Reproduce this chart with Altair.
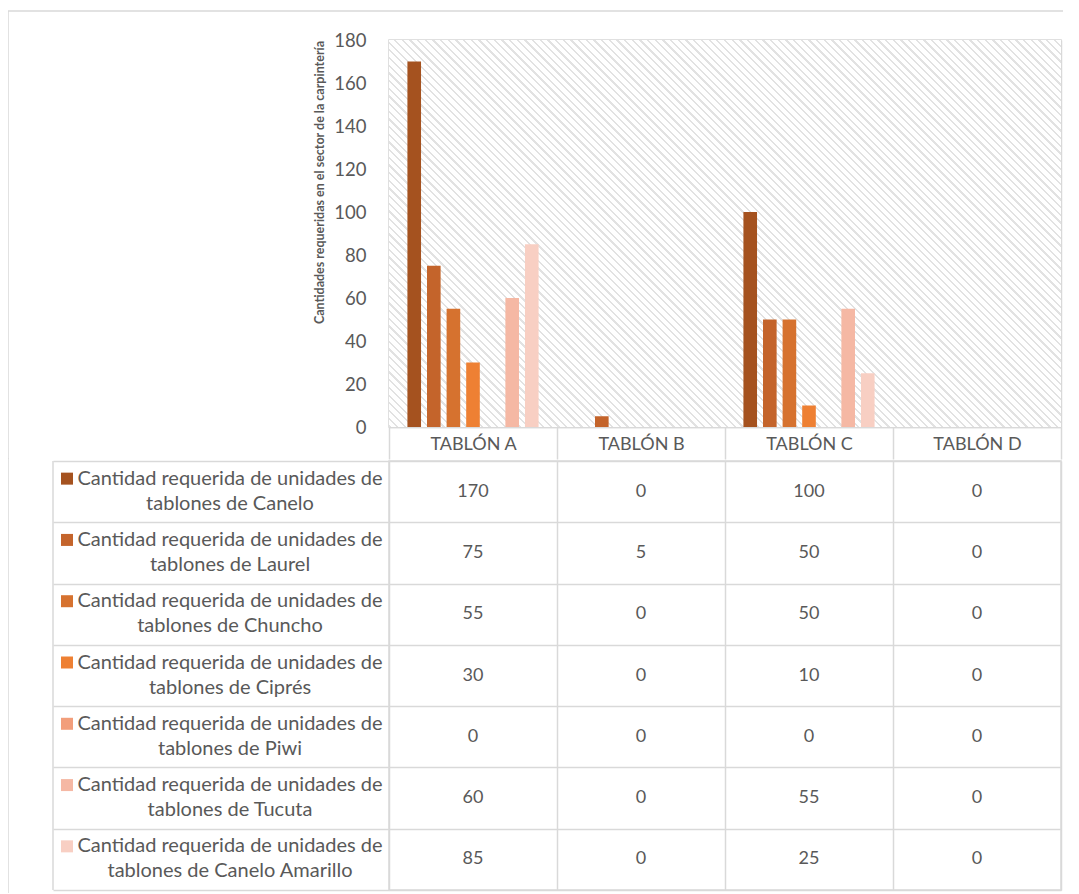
import altair as alt
import pandas as pd
import math

categories = ["TABLÓN A", "TABLÓN B", "TABLÓN C", "TABLÓN D"]
species = ["Canelo", "Laurel", "Chuncho", "Ciprés", "Piwi", "Tucuta", "Canelo Amarillo"]
canelo = [170, 0, 100, 0]
laurel = [75, 5, 50, 0]
chuncho = [55, 0, 50, 0]
cipres = [30, 0, 10, 0]
piwi = [0, 0, 0, 0]
tucuta = [60, 0, 55, 0]
canelo_amarillo = [85, 0, 25, 0]
colors = ["#A5521F", "#C4642B", "#D6722F", "#EE8033", "#F29E7B", "#F5B8A4", "#F8CFC3"]
y_ticks = [0, 20, 40, 60, 80, 100, 120, 140, 160, 180]
y_title = "Cantidades requeridas en el sector de la carpintería"

values = [canelo, laurel, chuncho, cipres, piwi, tucuta, canelo_amarillo]
labels = ["Cantidad requerida de unidades de\ntablones de " + s for s in species]

rows = []
for s, lab, vals in zip(species, labels, values):
    for c, v in zip(categories, vals):
        rows.append({"serie": s, "label": lab, "cat": c, "val": v})
df = pd.DataFrame(rows)
heads = pd.DataFrame({"serie": species, "label": labels})
one = pd.DataFrame({"k": [0]})

FONT = "Lato"
GRAY = "#D9D9D9"
TXT = "#595959"
W, H = 672, 387
TH = 429

# diagonal hatch as a repeating linear gradient (style only)
L = (W + H) / math.sqrt(2)
n = int(L / 5.4)
P = 1.0 / n
stops = []
for k in range(n):
    t0 = round(k * P, 5)
    t1 = round(k * P + 0.3 * P, 5)
    stops += [{"offset": t0, "color": "#FFFFFF"}, {"offset": t0, "color": "#E2E2E2"},
              {"offset": t1, "color": "#E2E2E2"}, {"offset": t1, "color": "#FFFFFF"}]
stops.append({"offset": 1, "color": "#FFFFFF"})
mu = (W + H) / (W * W + H * H)
hatch = {"gradient": "linear", "x1": 0, "y1": 1, "x2": round(mu * W, 5), "y2": round(1 - mu * H, 5), "stops": stops}

color_scale = alt.Scale(domain=species, range=colors)

bg = alt.Chart(one).mark_rect(fill=hatch, strokeWidth=0).encode(
    x=alt.value(0), x2=alt.value(W), y=alt.value(0), y2=alt.value(H))

bars = alt.Chart(df).mark_bar().encode(
    x=alt.X("cat:N", sort=categories, scale=alt.Scale(paddingInner=0, paddingOuter=0),
            axis=alt.Axis(title=None, labelAngle=0, labelFont=FONT, labelFontSize=18, labelColor=TXT,
                          labelBaseline="middle", labelPadding=-15, tickSize=32, tickColor=GRAY,
                          tickWidth=1.5, tickBand="extent",
                          grid=True, gridColor=GRAY, gridWidth=1.5, domainColor=GRAY, domainWidth=1.5)),
    xOffset=alt.XOffset("serie:N", sort=species, scale=alt.Scale(paddingInner=0.305, paddingOuter=0.94)),
    y=alt.Y("val:Q", scale=alt.Scale(domain=[0, 180], nice=False),
            axis=alt.Axis(values=y_ticks, title=y_title, titleFont=FONT, titleFontSize=12.5, titleFontWeight="bold",
                          titleColor=TXT, titleX=-70, titleY=142, titleAlign="center", titleBaseline="middle",
                          labelFont=FONT, labelFontSize=18.5, labelColor=TXT, labelPadding=23, ticks=False,
                          domain=False, grid=True, gridColor=GRAY, gridWidth=1.5)),
    color=alt.Color("serie:N", scale=color_scale, legend=None),
)
frame_top = alt.Chart(one).mark_rule(color=GRAY, strokeWidth=1.5).encode(
    x=alt.value(-381), x2=alt.value(W + 2), y=alt.value(-29))
frame_left_top = alt.Chart(one).mark_rule(color=GRAY, strokeWidth=1.5).encode(
    x=alt.value(-381), y=alt.value(-29), y2=alt.value(H + 32))
top = alt.layer(bg, bars, frame_top, frame_left_top).properties(width=W, height=H)

cells = alt.Chart(df).mark_text(font=FONT, fontSize=18, color=TXT).encode(
    x=alt.X("cat:N", sort=categories, scale=alt.Scale(paddingInner=0, paddingOuter=0),
            axis=alt.Axis(title=None, labels=False, ticks=False, domain=False, grid=True, tickBand="extent",
                          gridColor=GRAY, gridWidth=1.5)),
    y=alt.Y("serie:N", sort=species, scale=alt.Scale(paddingInner=0, paddingOuter=0),
            axis=alt.Axis(title=None, labels=False, domain=False, grid=True, tickBand="extent",
                          gridColor=GRAY, gridWidth=1.5, ticks=True, tickSize=336, tickColor=GRAY, tickWidth=1.5)),
    text=alt.Text("val:Q"),
)
head_text = alt.Chart(heads).mark_text(font=FONT, fontSize=20, color=TXT, align="center",
                                       baseline="middle", lineBreak="\n", lineHeight=25, dy=-13).encode(
    x=alt.value(-159), y=alt.Y("serie:N", sort=species), text="label:N")
squares = alt.Chart(heads).mark_square(size=144, opacity=1, yOffset=-13).encode(
    x=alt.value(-322), y=alt.Y("serie:N", sort=species),
    color=alt.Color("serie:N", scale=color_scale, legend=None))
left_border = alt.Chart(one).mark_rule(color=GRAY, strokeWidth=1.5).encode(
    x=alt.value(-336), y=alt.value(0), y2=alt.value(TH))
frame_left = alt.Chart(one).mark_rule(color=GRAY, strokeWidth=1.5).encode(
    x=alt.value(-381), y=alt.value(-3), y2=alt.value(TH + 3))
table = alt.layer(cells, head_text, squares, left_border, frame_left).properties(width=W, height=TH)

chart = alt.vconcat(top, table, spacing=-6).properties(
    padding={"left": -2, "top": 1, "right": 0, "bottom": 0}, background="#FFFFFF"
).configure_view(stroke=GRAY, strokeWidth=1.5)

chart.save("out.html", embed_options={"renderer": "svg", "actions": False})
